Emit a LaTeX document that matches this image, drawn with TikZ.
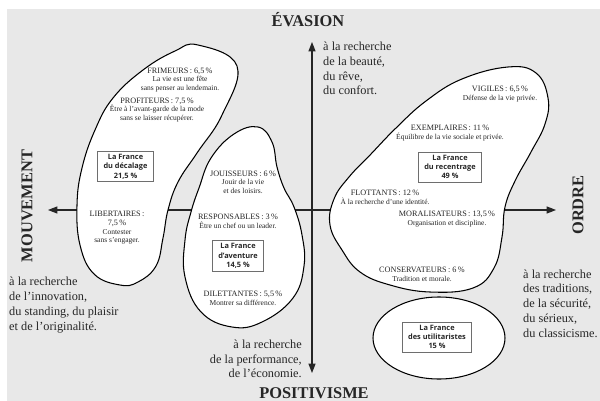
\documentclass[tikz,border=0pt]{standalone}
\usepackage{fontspec}
\setmainfont{Liberation Serif}
\newfontfamily\boxfont{Open Sans}
\usetikzlibrary{arrows.meta, positioning}
\definecolor{mapGray}{HTML}{E8E8E8}
\definecolor{boxLine}{HTML}{6E6E6E}
\definecolor{textDark}{HTML}{262626}

\newcommand{\descfont}{\fontsize{6.4}{7.4}\selectfont}

\begin{document}
\begin{tikzpicture}[
        x=0.03cm, y=-0.03cm,
        axis/.style={line width=1pt, draw=textDark,
          {Triangle[length=8pt,width=6pt]}-{Triangle[length=8pt,width=6pt]}},
        blob/.style={line width=0.9pt, draw=black, fill=white},
        pole/.style={font=\fontsize{14}{16}\selectfont\bfseries, text=textDark},
        quest/.style={font=\fontsize{10.5}{12.6}\selectfont, text=textDark, inner sep=0pt},
        grp/.style={font=\fontsize{7}{7.4}\selectfont, align=center, text=textDark, inner sep=0pt},
        fbox/.style={rectangle, draw=boxLine, line width=0.8pt, fill=white,
          font=\boxfont\bfseries\fontsize{6.3}{8}\selectfont, align=center,
          text=textDark, inner xsep=5pt, inner ysep=2.5pt}
      ]
        \useasboundingbox (0,0) rectangle (600,401);
        \fill[mapGray] (7,9) rectangle (600,401);

        % axes
        \coordinate (north) at (312,42);
        \coordinate (south) at (312,373);
        \coordinate (west)  at (48,210);
        \coordinate (east)  at (556,210);
        \draw[axis] (south) -- (north);
        \draw[axis] (west) -- (east);

        % groups
        \draw[blob] plot[smooth cycle, tension=0.7] coordinates {
          (198,45) (237,66) (222,115) (197,153) (178,182) (168,210)
          (163,238) (156,266) (138,282) (120,285) (94,274) (80,245)
          (77,205) (82,168) (95,130) (113,98) (143,70) (175,51)};
        \draw[blob] plot[smooth cycle, tension=0.7] coordinates {
          (258,127) (272,142) (277,167) (284,188) (294,207) (302,235)
          (304,266) (293,298) (262,322) (232,327) (201,312) (185,277)
          (185,240) (191,212) (199,188) (211,158) (234,134)};
        \draw[blob] plot[smooth cycle, tension=0.7] coordinates {
          (508,67) (536,73) (548,98) (545,124) (531,152) (515,181)
          (505,207) (502,237) (494,268) (473,288) (430,292) (390,285)
          (360,272) (342,250) (330,225) (334,199) (349,177) (371,154)
          (396,128) (426,101) (462,79)};
        \draw[blob] (439,338) ellipse[x radius=66, y radius=41];

        % poles
        \node[pole] (evasion) at (308,20) {ÉVASION};
        \node[pole] (positiv) at (314,393) {POSITIVISME};
        \node[pole, rotate=90] (mouvement) at (27,206) {MOUVEMENT};
        \node[pole, rotate=90] (ordre) at (578,205) {ORDRE};

        \node[quest, anchor=west, align=left] (qNorth) at (323,68.5)
          {à la recherche\\de la beauté,\\du rêve,\\du confort.};
        \node[quest, anchor=west, align=left] (qWest) at (9,305)
          {à la recherche\\de l’innovation,\\du standing, du plaisir\\et de l’originalité.};
        \node[quest, anchor=west, align=left] (qEast) at (523,303.5)
          {à la recherche\\des traditions,\\de la sécurité,\\du sérieux,\\du classicisme.};
        \node[quest, anchor=east, align=right] (qSouth) at (302,359)
          {à la recherche\\de la performance,\\de l’économie.};

        % sub-groups
        \node[grp] (frimeurs) at (180,80)
          {FRIMEURS\,: 6,5\,\%\\{\descfont La vie est une fête}\\{\descfont sans penser au lendemain.}};
        \node[grp] (profiteurs) at (157,110)
          {PROFITEURS\,: 7,5\,\%\\{\descfont Être à l’avant-garde de la mode}\\{\descfont sans se laisser récupérer.}};
        \node[grp] (libertaires) at (117,228)
          {LIBERTAIRES\,:\\7,5\,\%\\{\descfont Contester}\\{\descfont sans s’engager.}};
        \node[grp] (jouisseurs) at (243,182)
          {JOUISSEURS\,: 6\,\%\\{\descfont Jouir de la vie}\\{\descfont et des loisirs.}};
        \node[grp] (responsables) at (238,221)
          {RESPONSABLES\,: 3\,\%\\{\descfont Être un chef ou un leader.}};
        \node[grp] (dilettantes) at (243,298)
          {DILETTANTES\,: 5,5\,\%\\{\descfont Montrer sa différence.}};
        \node[grp] (vigiles) at (500,94)
          {VIGILES\,: 6,5\,\%\\{\descfont Défense de la vie privée.}};
        \node[grp] (exemplaires) at (450,133)
          {EXEMPLAIRES\,: 11\,\%\\{\descfont Équilibre de la vie sociale et privée.}};
        \node[grp] (flottants) at (385,197)
          {FLOTTANTS\,: 12\,\%\\{\descfont À la recherche d’une identité.}};
        \node[grp] (moralisateurs) at (447,219)
          {MORALISATEURS\,: 13,5\,\%\\{\descfont Organisation et discipline.}};
        \node[grp] (conservateurs) at (422,274)
          {CONSERVATEURS\,: 6\,\%\\{\descfont Tradition et morale.}};

        % France boxes
        \node[fbox] (decalage)   at (125.5,166.5) {La France\\du décalage\\21,5 \%};
        \node[fbox] (aventure)   at (238,256)     {La France\\d’aventure\\14,5 \%};
        \node[fbox] (recentrage) at (450,167)     {La France\\du recentrage\\49 \%};
        \node[fbox] (utilit)     at (437,337)     {La France\\des utilitaristes\\15 \%};
      \end{tikzpicture}
\end{document}
